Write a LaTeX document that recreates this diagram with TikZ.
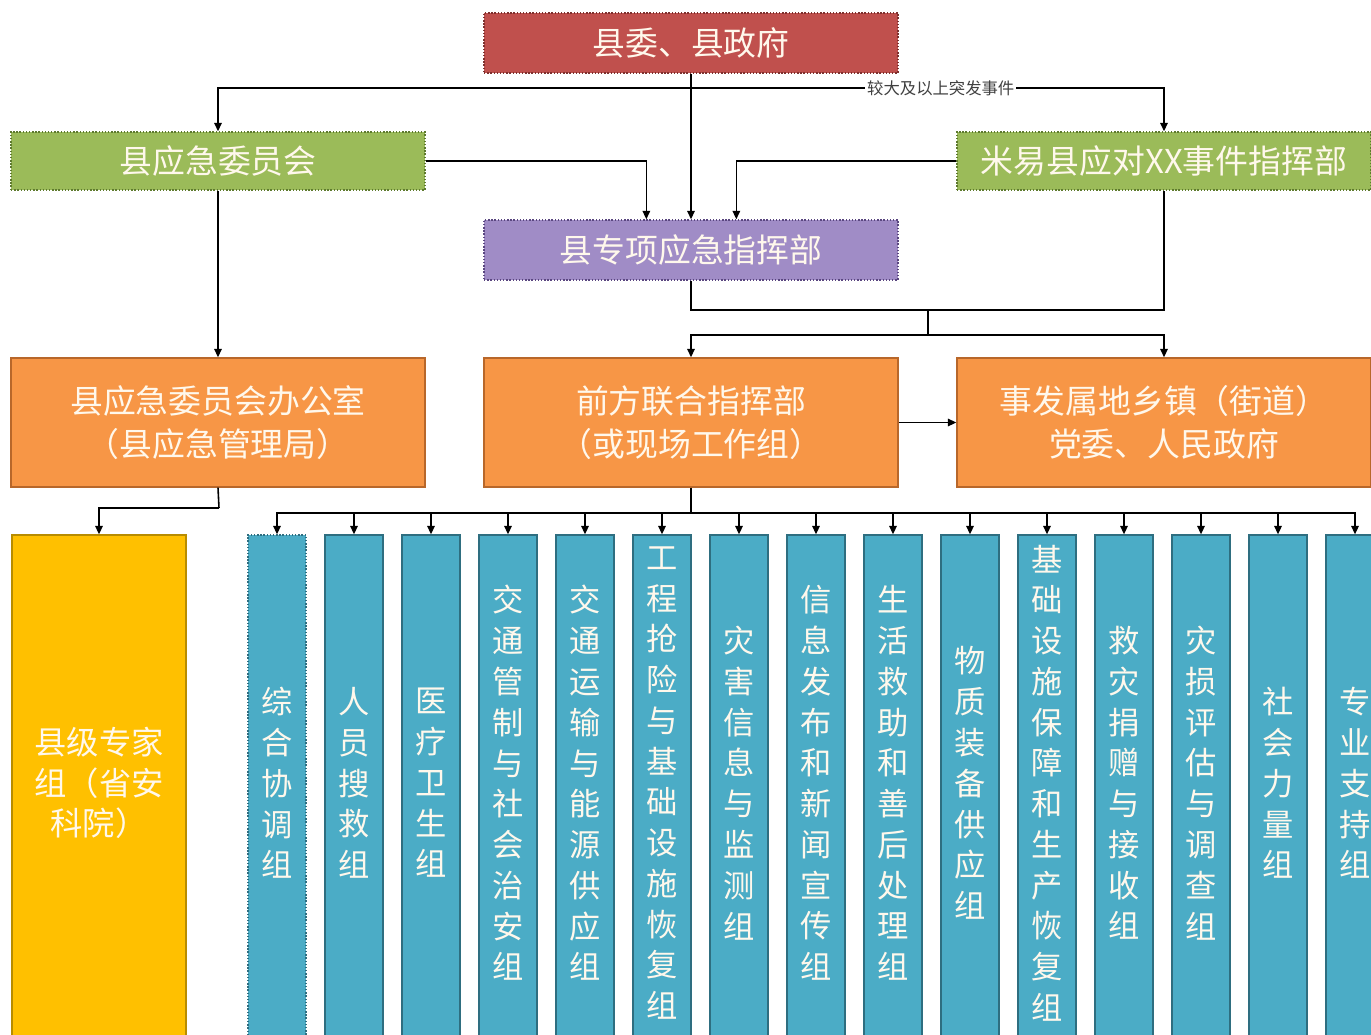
\documentclass[tikz,border=0pt]{standalone}
\usepackage{fontspec}
\setmainfont{Noto Sans CJK SC}
\usetikzlibrary{arrows.meta,calc}
\definecolor{cred}{HTML}{C0504D}\definecolor{credb}{HTML}{7E302E}
\definecolor{cgreen}{HTML}{9BBB59}\definecolor{cgreenb}{HTML}{5E7A2E}
\definecolor{cpurple}{HTML}{A08CC6}\definecolor{cpurpleb}{HTML}{5A4680}
\definecolor{corange}{HTML}{F79646}\definecolor{coranged}{HTML}{B8672A}
\definecolor{cyellow}{HTML}{FFC000}\definecolor{cyellowb}{HTML}{B88C00}
\definecolor{cteal}{HTML}{4BACC6}\definecolor{ctealb}{HTML}{2E6E80}
\definecolor{ctext}{HTML}{FFF8EC}
\tikzset{
  box/.style={rectangle, inner sep=0pt, text=ctext, align=center, line width=0.8pt,
    font=\fontsize{18.7}{24.4}\selectfont},
  wide/.style={box, minimum width=8.28cm},
  redbox/.style={wide, minimum height=1.2cm, fill=cred, draw=credb, densely dotted},
  greenbox/.style={wide, minimum height=1.16cm, fill=cgreen, draw=cgreenb, densely dotted},
  purplebox/.style={wide, minimum height=1.2cm, fill=cpurple, draw=cpurpleb, densely dotted},
  orangebox/.style={wide, minimum height=2.58cm, fill=corange, draw=coranged, solid},
  yellowbox/.style={box, minimum width=3.48cm, minimum height=10.1cm, fill=cyellow, draw=cyellowb},
  col/.style={box, minimum width=1.16cm, minimum height=10.1cm, fill=cteal, draw=ctealb},
  coltext/.style={inner sep=0pt, text=ctext, align=center, solid, yshift=0.09cm,
    font=\fontsize{17.8}{23.2}\selectfont},
  yeltext/.style={coltext, font=\fontsize{18.4}{22.9}\selectfont},
  conn/.style={draw=black, line width=0.9pt},
  arr/.style={conn, -{Triangle[length=0.17cm,width=0.15cm]}},
  lbl/.style={fill=white, inner sep=1pt, text=black!75, font=\fontsize{9.3}{10}\selectfont}
}
\begin{document}
\begin{tikzpicture}[x=0.02cm,y=-0.02cm]
\clip (0,0) rectangle (1371,1034);
\fill[white] (0,0) rectangle (1371,1034);
% top level
\node[redbox] (top) at (691,43) {县委、县政府};
\node[greenbox] (cwy) at (218,161) {县应急委员会};
\node[greenbox] (zhb) at (1164,161) {米易县应对XX事件指挥部};
\node[purplebox] (zx) at (691,250) {县专项应急指挥部};
\node[orangebox] (off) at (218,422.5) {县应急委员会办公室\\（县应急管理局）};
\node[orangebox] (qf) at (691,422.5) {前方联合指挥部\\（或现场工作组）};
\node[orangebox] (xz) at (1164,422.5) {事发属地乡镇（街道）\\党委、人民政府};
\node[yellowbox, label={[yeltext]center:{县级专家\\组（省安\\科院）}}] (zj) at (99,787.5) {};
% columns
\node[col, densely dotted, label={[coltext]center:{综\\合\\协\\调\\组}}] (c1) at (277,787.5) {};
\node[col, label={[coltext]center:{人\\员\\搜\\救\\组}}] (c2) at (354,787.5) {};
\node[col, label={[coltext]center:{医\\疗\\卫\\生\\组}}] (c3) at (431,787.5) {};
\node[col, label={[coltext]center:{交\\通\\管\\制\\与\\社\\会\\治\\安\\组}}] (c4) at (508,787.5) {};
\node[col, label={[coltext]center:{交\\通\\运\\输\\与\\能\\源\\供\\应\\组}}] (c5) at (585,787.5) {};
\node[col, label={[coltext]center:{工\\程\\抢\\险\\与\\基\\础\\设\\施\\恢\\复\\组}}] (c6) at (662,787.5) {};
\node[col, label={[coltext]center:{灾\\害\\信\\息\\与\\监\\测\\组}}] (c7) at (739,787.5) {};
\node[col, label={[coltext]center:{信\\息\\发\\布\\和\\新\\闻\\宣\\传\\组}}] (c8) at (816,787.5) {};
\node[col, label={[coltext]center:{生\\活\\救\\助\\和\\善\\后\\处\\理\\组}}] (c9) at (893,787.5) {};
\node[col, label={[coltext]center:{物\\质\\装\\备\\供\\应\\组}}] (c10) at (970,787.5) {};
\node[col, label={[coltext]center:{基\\础\\设\\施\\保\\障\\和\\生\\产\\恢\\复\\组}}] (c11) at (1047,787.5) {};
\node[col, label={[coltext]center:{救\\灾\\捐\\赠\\与\\接\\收\\组}}] (c12) at (1124,787.5) {};
\node[col, label={[coltext]center:{灾\\损\\评\\估\\与\\调\\查\\组}}] (c13) at (1201,787.5) {};
\node[col, label={[coltext]center:{社\\会\\力\\量\\组}}] (c14) at (1278,787.5) {};
\node[col, label={[coltext]center:{专\\业\\支\\持\\组}}] (c15) at (1355,787.5) {};
% junction coordinates
\coordinate (j0) at (691,88);
\coordinate (m1) at (928,310);
\coordinate (m2) at (928,335);
\coordinate (b0) at (219,508);
\coordinate (b1) at (691,513);
% connectors
\draw[arr] (top.south) -- (zx.north);
\draw[arr] (j0) -| (cwy.north);
\draw[arr] (j0) -| node[lbl, pos=0.264] (evt) {较大及以上突发事件} (zhb.north);
\draw[arr] (cwy.east) -| ($(zx.north west)+(163,0)$);
\draw[arr] (zhb.west) -| ($(zx.north west)+(253,0)$);
\draw[arr] (cwy.south) -- (off.north);
\draw[conn] (zx.south) |- (m1) -| (zhb.south);
\draw[conn] (m1) -- (m2);
\draw[arr] (m2) -| (qf.north);
\draw[arr] (m2) -| (xz.north);
\draw[arr] (qf.east) -- (xz.west);
\draw[conn] (off.south) -- (b0);
\draw[arr] (b0) -| (zj.north);
\draw[conn] (qf.south) -- (b1);
\foreach \i in {1,...,15} {\draw[arr] (b1) -| (c\i.north);}
\end{tikzpicture}
\end{document}
